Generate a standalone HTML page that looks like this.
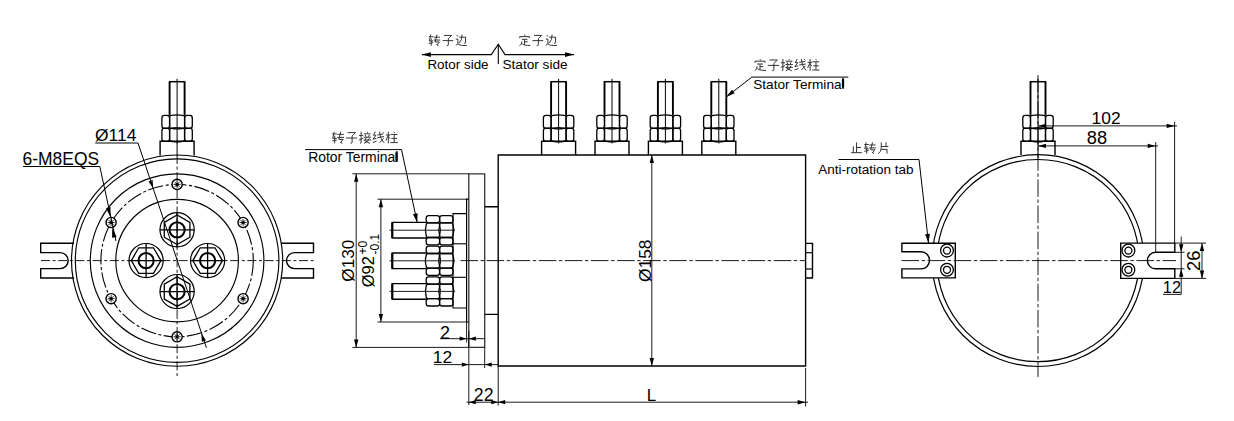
<!DOCTYPE html>
<html><head><meta charset="utf-8"><style>
html,body{margin:0;padding:0;background:#fff;width:1234px;height:421px;overflow:hidden}
svg{display:block}
text{font-family:"Liberation Sans",sans-serif;fill:#000}
</style></head><body>
<svg width="1234" height="421" viewBox="0 0 1234 421">
<rect width="1234" height="421" fill="#fff"/>
<path d="M169.6 115.5V81.7M184.6 81.7V115.5" stroke="#000" stroke-width="1.9" fill="none"/>
<line x1="168.9" y1="81.7" x2="185.3" y2="81.7" stroke="#000" stroke-width="1.5" stroke-linecap="butt"/>
<path d="M164.5 115.3Q165.75 115.3 167 115.3Q169.6 115.3 169.6 117.9Q169.6 121.85 169.6 125.8Q169.6 128.4 167 128.4Q165.75 128.4 164.5 128.4Q161.9 128.4 161.9 125.8Q161.9 121.85 161.9 117.9Q161.9 115.3 164.5 115.3Z" stroke="#000" stroke-width="1.3" fill="none"/>
<path d="M187.2 115.3Q188.45 115.3 189.7 115.3Q192.3 115.3 192.3 117.9Q192.3 121.85 192.3 125.8Q192.3 128.4 189.7 128.4Q188.45 128.4 187.2 128.4Q184.6 128.4 184.6 125.8Q184.6 121.85 184.6 117.9Q184.6 115.3 187.2 115.3Z" stroke="#000" stroke-width="1.3" fill="none"/>
<path d="M171.6 115.3Q177.1 114.3 182.6 115.3Q184.6 115.3 184.6 117.3Q184.6 121.85 184.6 126.4Q184.6 128.4 182.6 128.4Q177.1 129.4 171.6 128.4Q169.6 128.4 169.6 126.4Q169.6 121.85 169.6 117.3Q169.6 115.3 171.6 115.3Z" stroke="#000" stroke-width="1.3" fill="none"/>
<path d="M164.5 128.2Q165.75 128.2 167 128.2Q169.6 128.2 169.6 130.8Q169.6 134.75 169.6 138.7Q169.6 141.3 167 141.3Q165.75 141.3 164.5 141.3Q161.9 141.3 161.9 138.7Q161.9 134.75 161.9 130.8Q161.9 128.2 164.5 128.2Z" stroke="#000" stroke-width="1.3" fill="none"/>
<path d="M187.2 128.2Q188.45 128.2 189.7 128.2Q192.3 128.2 192.3 130.8Q192.3 134.75 192.3 138.7Q192.3 141.3 189.7 141.3Q188.45 141.3 187.2 141.3Q184.6 141.3 184.6 138.7Q184.6 134.75 184.6 130.8Q184.6 128.2 187.2 128.2Z" stroke="#000" stroke-width="1.3" fill="none"/>
<path d="M171.6 128.2Q177.1 127.2 182.6 128.2Q184.6 128.2 184.6 130.2Q184.6 134.75 184.6 139.3Q184.6 141.3 182.6 141.3Q177.1 142.3 171.6 141.3Q169.6 141.3 169.6 139.3Q169.6 134.75 169.6 130.2Q169.6 128.2 171.6 128.2Z" stroke="#000" stroke-width="1.3" fill="none"/>
<path d="M160.1 155.5V141.3H194.1V155.5" stroke="#000" stroke-width="1.4" fill="none"/>
<line x1="177.1" y1="78.8" x2="177.1" y2="143.5" stroke="#000" stroke-width="1.0" stroke-linecap="butt"/>
<line x1="177.1" y1="140" x2="177.1" y2="156" stroke="#000" stroke-width="1.0" stroke-linecap="butt"/>
<circle cx="177.1" cy="260.6" r="105.6" stroke="#000" stroke-width="1.15" fill="none"/>
<circle cx="177.1" cy="260.6" r="101.8" stroke="#000" stroke-width="1.15" fill="none"/>
<circle cx="177.1" cy="260.6" r="86.8" stroke="#000" stroke-width="1.15" fill="none"/>
<circle cx="177.1" cy="260.6" r="76.2" stroke="#000" stroke-width="1.1" fill="none" stroke-dasharray="15.5 2.5 3 2.5"/>
<circle cx="177.1" cy="260.6" r="61.3" stroke="#000" stroke-width="1.15" fill="none"/>
<path d="M74 243.2H40.7V252.6H60.2A8 8 0 0 1 60.2 268.6H40.7V278H74" stroke="#000" stroke-width="1.4" fill="none"/>
<path d="M281 243.2H313.5V252.6H294.5A8 8 0 0 0 294.5 268.6H313.5V278H281" stroke="#000" stroke-width="1.4" fill="none"/>
<circle cx="243.09" cy="222.5" r="5.1" fill="#fff" stroke="#000" stroke-width="1.4"/>
<circle cx="243.09" cy="222.5" r="1.6" fill="#000"/>
<path d="M239.49 222.5H246.69M243.09 218.9V226.1M240.59 220L245.59 225M245.59 220L240.59 225" stroke="#000" stroke-width="0.8"/>
<circle cx="177.1" cy="184.4" r="5.1" fill="#fff" stroke="#000" stroke-width="1.4"/>
<circle cx="177.1" cy="184.4" r="1.6" fill="#000"/>
<path d="M173.5 184.4H180.7M177.1 180.8V188M174.6 181.9L179.6 186.9M179.6 181.9L174.6 186.9" stroke="#000" stroke-width="0.8"/>
<circle cx="111.11" cy="222.5" r="5.1" fill="#fff" stroke="#000" stroke-width="1.4"/>
<circle cx="111.11" cy="222.5" r="1.6" fill="#000"/>
<path d="M107.51 222.5H114.71M111.11 218.9V226.1M108.61 220L113.61 225M113.61 220L108.61 225" stroke="#000" stroke-width="0.8"/>
<circle cx="111.11" cy="298.7" r="5.1" fill="#fff" stroke="#000" stroke-width="1.4"/>
<circle cx="111.11" cy="298.7" r="1.6" fill="#000"/>
<path d="M107.51 298.7H114.71M111.11 295.1V302.3M108.61 296.2L113.61 301.2M113.61 296.2L108.61 301.2" stroke="#000" stroke-width="0.8"/>
<circle cx="177.1" cy="336.8" r="5.1" fill="#fff" stroke="#000" stroke-width="1.4"/>
<circle cx="177.1" cy="336.8" r="1.6" fill="#000"/>
<path d="M173.5 336.8H180.7M177.1 333.2V340.4M174.6 334.3L179.6 339.3M179.6 334.3L174.6 339.3" stroke="#000" stroke-width="0.8"/>
<circle cx="243.09" cy="298.7" r="5.1" fill="#fff" stroke="#000" stroke-width="1.4"/>
<circle cx="243.09" cy="298.7" r="1.6" fill="#000"/>
<path d="M239.49 298.7H246.69M243.09 295.1V302.3M240.59 296.2L245.59 301.2M245.59 296.2L240.59 301.2" stroke="#000" stroke-width="0.8"/>
<line x1="41" y1="260.6" x2="314" y2="260.6" stroke="#000" stroke-width="0.9" stroke-dasharray="9 2.6 3 2.6" stroke-linecap="butt"/>
<line x1="177.1" y1="155" x2="177.1" y2="377" stroke="#000" stroke-width="0.9" stroke-dasharray="9 2.6 3 2.6" stroke-linecap="butt"/>
<circle cx="177.1" cy="229.8" r="17.1" stroke="#000" stroke-width="1.2" fill="none"/>
<polygon points="189.92,237.2 177.1,244.6 164.28,237.2 164.28,222.4 177.1,215 189.92,222.4" fill="none" stroke="#000" stroke-width="1.3"/>
<circle cx="177.1" cy="229.8" r="7.6" stroke="#000" stroke-width="2.0" fill="none"/>
<line x1="159.6" y1="229.8" x2="194.6" y2="229.8" stroke="#000" stroke-width="1.3" stroke-linecap="butt"/>
<line x1="177.1" y1="212.3" x2="177.1" y2="247.3" stroke="#000" stroke-width="1.3" stroke-linecap="butt"/>
<circle cx="177.1" cy="291.6" r="17.1" stroke="#000" stroke-width="1.2" fill="none"/>
<polygon points="189.92,299 177.1,306.4 164.28,299 164.28,284.2 177.1,276.8 189.92,284.2" fill="none" stroke="#000" stroke-width="1.3"/>
<circle cx="177.1" cy="291.6" r="7.6" stroke="#000" stroke-width="2.0" fill="none"/>
<line x1="159.6" y1="291.6" x2="194.6" y2="291.6" stroke="#000" stroke-width="1.3" stroke-linecap="butt"/>
<line x1="177.1" y1="274.1" x2="177.1" y2="309.1" stroke="#000" stroke-width="1.3" stroke-linecap="butt"/>
<circle cx="146.1" cy="260.6" r="17.1" stroke="#000" stroke-width="1.2" fill="none"/>
<polygon points="160.9,260.6 153.5,273.42 138.7,273.42 131.3,260.6 138.7,247.78 153.5,247.78" fill="none" stroke="#000" stroke-width="1.3"/>
<circle cx="146.1" cy="260.6" r="7.6" stroke="#000" stroke-width="2.0" fill="none"/>
<line x1="128.6" y1="260.6" x2="163.6" y2="260.6" stroke="#000" stroke-width="1.3" stroke-linecap="butt"/>
<line x1="146.1" y1="243.1" x2="146.1" y2="278.1" stroke="#000" stroke-width="1.3" stroke-linecap="butt"/>
<circle cx="207.6" cy="260.6" r="17.1" stroke="#000" stroke-width="1.2" fill="none"/>
<polygon points="222.4,260.6 215,273.42 200.2,273.42 192.8,260.6 200.2,247.78 215,247.78" fill="none" stroke="#000" stroke-width="1.3"/>
<circle cx="207.6" cy="260.6" r="7.6" stroke="#000" stroke-width="2.0" fill="none"/>
<line x1="190.1" y1="260.6" x2="225.1" y2="260.6" stroke="#000" stroke-width="1.3" stroke-linecap="butt"/>
<line x1="207.6" y1="243.1" x2="207.6" y2="278.1" stroke="#000" stroke-width="1.3" stroke-linecap="butt"/>
<line x1="138" y1="143" x2="206.4" y2="347.7" stroke="#000" stroke-width="1.0" stroke-linecap="butt"/>
<path d="M153.1 188.3L148.49 181.4L152.66 180.01Z" fill="#000"/>
<path d="M201.4 333.5L206.01 340.4L201.84 341.79Z" fill="#000"/>
<line x1="95.2" y1="143" x2="138" y2="143" stroke="#000" stroke-width="1.0" stroke-linecap="butt"/>
<text x="95.1" y="140.7" font-size="17.4" text-anchor="start">Ø114</text>
<line x1="23" y1="166.5" x2="99.8" y2="166.5" stroke="#000" stroke-width="1.0" stroke-linecap="butt"/>
<line x1="99.8" y1="166.5" x2="116" y2="241" stroke="#000" stroke-width="1.0" stroke-linecap="butt"/>
<path d="M110.4 217.2L106.02 207.92L110.52 206.94Z" fill="#000"/>
<path d="M112.2 227.6L116.58 236.88L112.08 237.86Z" fill="#000"/>
<text x="22.6" y="164.5" font-size="17.45" text-anchor="start">6-M8EQS</text>
<path d="M498.2 155H805.6V366H498.2Z" stroke="#000" stroke-width="1.4" fill="none"/>
<path d="M805.6 243.4H812.5V278H805.6" stroke="#000" stroke-width="1.4" fill="none"/>
<line x1="805.6" y1="252.7" x2="812.5" y2="252.7" stroke="#000" stroke-width="1.2" stroke-linecap="butt"/>
<line x1="805.6" y1="269" x2="812.5" y2="269" stroke="#000" stroke-width="1.2" stroke-linecap="butt"/>
<path d="M498.2 206.8H484.7M484.7 314.4H498.2" stroke="#000" stroke-width="1.4" fill="none"/>
<path d="M484.7 173.8H468.8V347.4H484.7Z" stroke="#333" stroke-width="1.3" fill="none"/>
<path d="M468.8 199.2H466.6V322H468.8" stroke="#000" stroke-width="1.2" fill="none"/>
<path d="M466.6 213.6H453V308H466.6" stroke="#000" stroke-width="1.1" fill="none"/>
<line x1="453" y1="243.8" x2="466.6" y2="243.8" stroke="#000" stroke-width="1.1" stroke-linecap="butt"/>
<line x1="453" y1="277.3" x2="466.6" y2="277.3" stroke="#000" stroke-width="1.1" stroke-linecap="butt"/>
<path d="M426.2 222.4H392.3V238H426.2" stroke="#000" stroke-width="1.4" fill="none"/>
<line x1="392.3" y1="222.4" x2="392.3" y2="238" stroke="#000" stroke-width="2.2" stroke-linecap="butt"/>
<line x1="389.5" y1="230.2" x2="455" y2="230.2" stroke="#000" stroke-width="0.9" stroke-linecap="butt"/>
<path d="M428.8 215.6Q432.9 215.6 437 215.6Q439.6 215.6 439.6 218.2Q439.6 219.25 439.6 220.3Q439.6 222.9 437 222.9Q432.9 222.9 428.8 222.9Q426.2 222.9 426.2 220.3Q426.2 219.25 426.2 218.2Q426.2 215.6 428.8 215.6Z" stroke="#000" stroke-width="1.3" fill="none"/>
<path d="M428.8 237.5Q432.9 237.5 437 237.5Q439.6 237.5 439.6 240.1Q439.6 241.15 439.6 242.2Q439.6 244.8 437 244.8Q432.9 244.8 428.8 244.8Q426.2 244.8 426.2 242.2Q426.2 241.15 426.2 240.1Q426.2 237.5 428.8 237.5Z" stroke="#000" stroke-width="1.3" fill="none"/>
<path d="M428.2 222.9Q432.9 222.9 437.6 222.9Q439.6 222.9 439.6 224.9Q441.2 230.2 439.6 235.5Q439.6 237.5 437.6 237.5Q432.9 237.5 428.2 237.5Q426.2 237.5 426.2 235.5Q424.6 230.2 426.2 224.9Q426.2 222.9 428.2 222.9Z" stroke="#000" stroke-width="1.3" fill="none"/>
<path d="M442.2 215.6Q446.3 215.6 450.4 215.6Q453 215.6 453 218.2Q453 219.25 453 220.3Q453 222.9 450.4 222.9Q446.3 222.9 442.2 222.9Q439.6 222.9 439.6 220.3Q439.6 219.25 439.6 218.2Q439.6 215.6 442.2 215.6Z" stroke="#000" stroke-width="1.3" fill="none"/>
<path d="M442.2 237.5Q446.3 237.5 450.4 237.5Q453 237.5 453 240.1Q453 241.15 453 242.2Q453 244.8 450.4 244.8Q446.3 244.8 442.2 244.8Q439.6 244.8 439.6 242.2Q439.6 241.15 439.6 240.1Q439.6 237.5 442.2 237.5Z" stroke="#000" stroke-width="1.3" fill="none"/>
<path d="M441.6 222.9Q446.3 222.9 451 222.9Q453 222.9 453 224.9Q454.6 230.2 453 235.5Q453 237.5 451 237.5Q446.3 237.5 441.6 237.5Q439.6 237.5 439.6 235.5Q438 230.2 439.6 224.9Q439.6 222.9 441.6 222.9Z" stroke="#000" stroke-width="1.3" fill="none"/>
<path d="M426.2 253H392.3V268.6H426.2" stroke="#000" stroke-width="1.4" fill="none"/>
<line x1="392.3" y1="253" x2="392.3" y2="268.6" stroke="#000" stroke-width="2.2" stroke-linecap="butt"/>
<line x1="389.5" y1="260.8" x2="455" y2="260.8" stroke="#000" stroke-width="0.9" stroke-linecap="butt"/>
<path d="M428.8 246.2Q432.9 246.2 437 246.2Q439.6 246.2 439.6 248.8Q439.6 249.85 439.6 250.9Q439.6 253.5 437 253.5Q432.9 253.5 428.8 253.5Q426.2 253.5 426.2 250.9Q426.2 249.85 426.2 248.8Q426.2 246.2 428.8 246.2Z" stroke="#000" stroke-width="1.3" fill="none"/>
<path d="M428.8 268.1Q432.9 268.1 437 268.1Q439.6 268.1 439.6 270.7Q439.6 271.75 439.6 272.8Q439.6 275.4 437 275.4Q432.9 275.4 428.8 275.4Q426.2 275.4 426.2 272.8Q426.2 271.75 426.2 270.7Q426.2 268.1 428.8 268.1Z" stroke="#000" stroke-width="1.3" fill="none"/>
<path d="M428.2 253.5Q432.9 253.5 437.6 253.5Q439.6 253.5 439.6 255.5Q441.2 260.8 439.6 266.1Q439.6 268.1 437.6 268.1Q432.9 268.1 428.2 268.1Q426.2 268.1 426.2 266.1Q424.6 260.8 426.2 255.5Q426.2 253.5 428.2 253.5Z" stroke="#000" stroke-width="1.3" fill="none"/>
<path d="M442.2 246.2Q446.3 246.2 450.4 246.2Q453 246.2 453 248.8Q453 249.85 453 250.9Q453 253.5 450.4 253.5Q446.3 253.5 442.2 253.5Q439.6 253.5 439.6 250.9Q439.6 249.85 439.6 248.8Q439.6 246.2 442.2 246.2Z" stroke="#000" stroke-width="1.3" fill="none"/>
<path d="M442.2 268.1Q446.3 268.1 450.4 268.1Q453 268.1 453 270.7Q453 271.75 453 272.8Q453 275.4 450.4 275.4Q446.3 275.4 442.2 275.4Q439.6 275.4 439.6 272.8Q439.6 271.75 439.6 270.7Q439.6 268.1 442.2 268.1Z" stroke="#000" stroke-width="1.3" fill="none"/>
<path d="M441.6 253.5Q446.3 253.5 451 253.5Q453 253.5 453 255.5Q454.6 260.8 453 266.1Q453 268.1 451 268.1Q446.3 268.1 441.6 268.1Q439.6 268.1 439.6 266.1Q438 260.8 439.6 255.5Q439.6 253.5 441.6 253.5Z" stroke="#000" stroke-width="1.3" fill="none"/>
<path d="M426.2 283.6H392.3V299.2H426.2" stroke="#000" stroke-width="1.4" fill="none"/>
<line x1="392.3" y1="283.6" x2="392.3" y2="299.2" stroke="#000" stroke-width="2.2" stroke-linecap="butt"/>
<line x1="389.5" y1="291.4" x2="455" y2="291.4" stroke="#000" stroke-width="0.9" stroke-linecap="butt"/>
<path d="M428.8 276.8Q432.9 276.8 437 276.8Q439.6 276.8 439.6 279.4Q439.6 280.45 439.6 281.5Q439.6 284.1 437 284.1Q432.9 284.1 428.8 284.1Q426.2 284.1 426.2 281.5Q426.2 280.45 426.2 279.4Q426.2 276.8 428.8 276.8Z" stroke="#000" stroke-width="1.3" fill="none"/>
<path d="M428.8 298.7Q432.9 298.7 437 298.7Q439.6 298.7 439.6 301.3Q439.6 302.35 439.6 303.4Q439.6 306 437 306Q432.9 306 428.8 306Q426.2 306 426.2 303.4Q426.2 302.35 426.2 301.3Q426.2 298.7 428.8 298.7Z" stroke="#000" stroke-width="1.3" fill="none"/>
<path d="M428.2 284.1Q432.9 284.1 437.6 284.1Q439.6 284.1 439.6 286.1Q441.2 291.4 439.6 296.7Q439.6 298.7 437.6 298.7Q432.9 298.7 428.2 298.7Q426.2 298.7 426.2 296.7Q424.6 291.4 426.2 286.1Q426.2 284.1 428.2 284.1Z" stroke="#000" stroke-width="1.3" fill="none"/>
<path d="M442.2 276.8Q446.3 276.8 450.4 276.8Q453 276.8 453 279.4Q453 280.45 453 281.5Q453 284.1 450.4 284.1Q446.3 284.1 442.2 284.1Q439.6 284.1 439.6 281.5Q439.6 280.45 439.6 279.4Q439.6 276.8 442.2 276.8Z" stroke="#000" stroke-width="1.3" fill="none"/>
<path d="M442.2 298.7Q446.3 298.7 450.4 298.7Q453 298.7 453 301.3Q453 302.35 453 303.4Q453 306 450.4 306Q446.3 306 442.2 306Q439.6 306 439.6 303.4Q439.6 302.35 439.6 301.3Q439.6 298.7 442.2 298.7Z" stroke="#000" stroke-width="1.3" fill="none"/>
<path d="M441.6 284.1Q446.3 284.1 451 284.1Q453 284.1 453 286.1Q454.6 291.4 453 296.7Q453 298.7 451 298.7Q446.3 298.7 441.6 298.7Q439.6 298.7 439.6 296.7Q438 291.4 439.6 286.1Q439.6 284.1 441.6 284.1Z" stroke="#000" stroke-width="1.3" fill="none"/>
<path d="M551.1 115.5V81.7M566.1 81.7V115.5" stroke="#000" stroke-width="1.9" fill="none"/>
<line x1="550.4" y1="81.7" x2="566.8" y2="81.7" stroke="#000" stroke-width="1.5" stroke-linecap="butt"/>
<path d="M546 115.3Q547.25 115.3 548.5 115.3Q551.1 115.3 551.1 117.9Q551.1 121.85 551.1 125.8Q551.1 128.4 548.5 128.4Q547.25 128.4 546 128.4Q543.4 128.4 543.4 125.8Q543.4 121.85 543.4 117.9Q543.4 115.3 546 115.3Z" stroke="#000" stroke-width="1.3" fill="none"/>
<path d="M568.7 115.3Q569.95 115.3 571.2 115.3Q573.8 115.3 573.8 117.9Q573.8 121.85 573.8 125.8Q573.8 128.4 571.2 128.4Q569.95 128.4 568.7 128.4Q566.1 128.4 566.1 125.8Q566.1 121.85 566.1 117.9Q566.1 115.3 568.7 115.3Z" stroke="#000" stroke-width="1.3" fill="none"/>
<path d="M553.1 115.3Q558.6 114.3 564.1 115.3Q566.1 115.3 566.1 117.3Q566.1 121.85 566.1 126.4Q566.1 128.4 564.1 128.4Q558.6 129.4 553.1 128.4Q551.1 128.4 551.1 126.4Q551.1 121.85 551.1 117.3Q551.1 115.3 553.1 115.3Z" stroke="#000" stroke-width="1.3" fill="none"/>
<path d="M546 128.2Q547.25 128.2 548.5 128.2Q551.1 128.2 551.1 130.8Q551.1 134.75 551.1 138.7Q551.1 141.3 548.5 141.3Q547.25 141.3 546 141.3Q543.4 141.3 543.4 138.7Q543.4 134.75 543.4 130.8Q543.4 128.2 546 128.2Z" stroke="#000" stroke-width="1.3" fill="none"/>
<path d="M568.7 128.2Q569.95 128.2 571.2 128.2Q573.8 128.2 573.8 130.8Q573.8 134.75 573.8 138.7Q573.8 141.3 571.2 141.3Q569.95 141.3 568.7 141.3Q566.1 141.3 566.1 138.7Q566.1 134.75 566.1 130.8Q566.1 128.2 568.7 128.2Z" stroke="#000" stroke-width="1.3" fill="none"/>
<path d="M553.1 128.2Q558.6 127.2 564.1 128.2Q566.1 128.2 566.1 130.2Q566.1 134.75 566.1 139.3Q566.1 141.3 564.1 141.3Q558.6 142.3 553.1 141.3Q551.1 141.3 551.1 139.3Q551.1 134.75 551.1 130.2Q551.1 128.2 553.1 128.2Z" stroke="#000" stroke-width="1.3" fill="none"/>
<path d="M541.6 155V141.3H575.6V155" stroke="#000" stroke-width="1.4" fill="none"/>
<line x1="558.6" y1="78.8" x2="558.6" y2="143.5" stroke="#000" stroke-width="1.0" stroke-linecap="butt"/>
<path d="M604.5 115.5V81.7M619.5 81.7V115.5" stroke="#000" stroke-width="1.9" fill="none"/>
<line x1="603.8" y1="81.7" x2="620.2" y2="81.7" stroke="#000" stroke-width="1.5" stroke-linecap="butt"/>
<path d="M599.4 115.3Q600.65 115.3 601.9 115.3Q604.5 115.3 604.5 117.9Q604.5 121.85 604.5 125.8Q604.5 128.4 601.9 128.4Q600.65 128.4 599.4 128.4Q596.8 128.4 596.8 125.8Q596.8 121.85 596.8 117.9Q596.8 115.3 599.4 115.3Z" stroke="#000" stroke-width="1.3" fill="none"/>
<path d="M622.1 115.3Q623.35 115.3 624.6 115.3Q627.2 115.3 627.2 117.9Q627.2 121.85 627.2 125.8Q627.2 128.4 624.6 128.4Q623.35 128.4 622.1 128.4Q619.5 128.4 619.5 125.8Q619.5 121.85 619.5 117.9Q619.5 115.3 622.1 115.3Z" stroke="#000" stroke-width="1.3" fill="none"/>
<path d="M606.5 115.3Q612 114.3 617.5 115.3Q619.5 115.3 619.5 117.3Q619.5 121.85 619.5 126.4Q619.5 128.4 617.5 128.4Q612 129.4 606.5 128.4Q604.5 128.4 604.5 126.4Q604.5 121.85 604.5 117.3Q604.5 115.3 606.5 115.3Z" stroke="#000" stroke-width="1.3" fill="none"/>
<path d="M599.4 128.2Q600.65 128.2 601.9 128.2Q604.5 128.2 604.5 130.8Q604.5 134.75 604.5 138.7Q604.5 141.3 601.9 141.3Q600.65 141.3 599.4 141.3Q596.8 141.3 596.8 138.7Q596.8 134.75 596.8 130.8Q596.8 128.2 599.4 128.2Z" stroke="#000" stroke-width="1.3" fill="none"/>
<path d="M622.1 128.2Q623.35 128.2 624.6 128.2Q627.2 128.2 627.2 130.8Q627.2 134.75 627.2 138.7Q627.2 141.3 624.6 141.3Q623.35 141.3 622.1 141.3Q619.5 141.3 619.5 138.7Q619.5 134.75 619.5 130.8Q619.5 128.2 622.1 128.2Z" stroke="#000" stroke-width="1.3" fill="none"/>
<path d="M606.5 128.2Q612 127.2 617.5 128.2Q619.5 128.2 619.5 130.2Q619.5 134.75 619.5 139.3Q619.5 141.3 617.5 141.3Q612 142.3 606.5 141.3Q604.5 141.3 604.5 139.3Q604.5 134.75 604.5 130.2Q604.5 128.2 606.5 128.2Z" stroke="#000" stroke-width="1.3" fill="none"/>
<path d="M595 155V141.3H629V155" stroke="#000" stroke-width="1.4" fill="none"/>
<line x1="612" y1="78.8" x2="612" y2="143.5" stroke="#000" stroke-width="1.0" stroke-linecap="butt"/>
<path d="M657.9 115.5V81.7M672.9 81.7V115.5" stroke="#000" stroke-width="1.9" fill="none"/>
<line x1="657.2" y1="81.7" x2="673.6" y2="81.7" stroke="#000" stroke-width="1.5" stroke-linecap="butt"/>
<path d="M652.8 115.3Q654.05 115.3 655.3 115.3Q657.9 115.3 657.9 117.9Q657.9 121.85 657.9 125.8Q657.9 128.4 655.3 128.4Q654.05 128.4 652.8 128.4Q650.2 128.4 650.2 125.8Q650.2 121.85 650.2 117.9Q650.2 115.3 652.8 115.3Z" stroke="#000" stroke-width="1.3" fill="none"/>
<path d="M675.5 115.3Q676.75 115.3 678 115.3Q680.6 115.3 680.6 117.9Q680.6 121.85 680.6 125.8Q680.6 128.4 678 128.4Q676.75 128.4 675.5 128.4Q672.9 128.4 672.9 125.8Q672.9 121.85 672.9 117.9Q672.9 115.3 675.5 115.3Z" stroke="#000" stroke-width="1.3" fill="none"/>
<path d="M659.9 115.3Q665.4 114.3 670.9 115.3Q672.9 115.3 672.9 117.3Q672.9 121.85 672.9 126.4Q672.9 128.4 670.9 128.4Q665.4 129.4 659.9 128.4Q657.9 128.4 657.9 126.4Q657.9 121.85 657.9 117.3Q657.9 115.3 659.9 115.3Z" stroke="#000" stroke-width="1.3" fill="none"/>
<path d="M652.8 128.2Q654.05 128.2 655.3 128.2Q657.9 128.2 657.9 130.8Q657.9 134.75 657.9 138.7Q657.9 141.3 655.3 141.3Q654.05 141.3 652.8 141.3Q650.2 141.3 650.2 138.7Q650.2 134.75 650.2 130.8Q650.2 128.2 652.8 128.2Z" stroke="#000" stroke-width="1.3" fill="none"/>
<path d="M675.5 128.2Q676.75 128.2 678 128.2Q680.6 128.2 680.6 130.8Q680.6 134.75 680.6 138.7Q680.6 141.3 678 141.3Q676.75 141.3 675.5 141.3Q672.9 141.3 672.9 138.7Q672.9 134.75 672.9 130.8Q672.9 128.2 675.5 128.2Z" stroke="#000" stroke-width="1.3" fill="none"/>
<path d="M659.9 128.2Q665.4 127.2 670.9 128.2Q672.9 128.2 672.9 130.2Q672.9 134.75 672.9 139.3Q672.9 141.3 670.9 141.3Q665.4 142.3 659.9 141.3Q657.9 141.3 657.9 139.3Q657.9 134.75 657.9 130.2Q657.9 128.2 659.9 128.2Z" stroke="#000" stroke-width="1.3" fill="none"/>
<path d="M648.4 155V141.3H682.4V155" stroke="#000" stroke-width="1.4" fill="none"/>
<line x1="665.4" y1="78.8" x2="665.4" y2="143.5" stroke="#000" stroke-width="1.0" stroke-linecap="butt"/>
<path d="M711.3 115.5V81.7M726.3 81.7V115.5" stroke="#000" stroke-width="1.9" fill="none"/>
<line x1="710.6" y1="81.7" x2="727" y2="81.7" stroke="#000" stroke-width="1.5" stroke-linecap="butt"/>
<path d="M706.2 115.3Q707.45 115.3 708.7 115.3Q711.3 115.3 711.3 117.9Q711.3 121.85 711.3 125.8Q711.3 128.4 708.7 128.4Q707.45 128.4 706.2 128.4Q703.6 128.4 703.6 125.8Q703.6 121.85 703.6 117.9Q703.6 115.3 706.2 115.3Z" stroke="#000" stroke-width="1.3" fill="none"/>
<path d="M728.9 115.3Q730.15 115.3 731.4 115.3Q734 115.3 734 117.9Q734 121.85 734 125.8Q734 128.4 731.4 128.4Q730.15 128.4 728.9 128.4Q726.3 128.4 726.3 125.8Q726.3 121.85 726.3 117.9Q726.3 115.3 728.9 115.3Z" stroke="#000" stroke-width="1.3" fill="none"/>
<path d="M713.3 115.3Q718.8 114.3 724.3 115.3Q726.3 115.3 726.3 117.3Q726.3 121.85 726.3 126.4Q726.3 128.4 724.3 128.4Q718.8 129.4 713.3 128.4Q711.3 128.4 711.3 126.4Q711.3 121.85 711.3 117.3Q711.3 115.3 713.3 115.3Z" stroke="#000" stroke-width="1.3" fill="none"/>
<path d="M706.2 128.2Q707.45 128.2 708.7 128.2Q711.3 128.2 711.3 130.8Q711.3 134.75 711.3 138.7Q711.3 141.3 708.7 141.3Q707.45 141.3 706.2 141.3Q703.6 141.3 703.6 138.7Q703.6 134.75 703.6 130.8Q703.6 128.2 706.2 128.2Z" stroke="#000" stroke-width="1.3" fill="none"/>
<path d="M728.9 128.2Q730.15 128.2 731.4 128.2Q734 128.2 734 130.8Q734 134.75 734 138.7Q734 141.3 731.4 141.3Q730.15 141.3 728.9 141.3Q726.3 141.3 726.3 138.7Q726.3 134.75 726.3 130.8Q726.3 128.2 728.9 128.2Z" stroke="#000" stroke-width="1.3" fill="none"/>
<path d="M713.3 128.2Q718.8 127.2 724.3 128.2Q726.3 128.2 726.3 130.2Q726.3 134.75 726.3 139.3Q726.3 141.3 724.3 141.3Q718.8 142.3 713.3 141.3Q711.3 141.3 711.3 139.3Q711.3 134.75 711.3 130.2Q711.3 128.2 713.3 128.2Z" stroke="#000" stroke-width="1.3" fill="none"/>
<path d="M701.8 155V141.3H735.8V155" stroke="#000" stroke-width="1.4" fill="none"/>
<line x1="718.8" y1="78.8" x2="718.8" y2="143.5" stroke="#000" stroke-width="1.0" stroke-linecap="butt"/>
<line x1="460.5" y1="260.6" x2="806" y2="260.6" stroke="#000" stroke-width="0.9" stroke-dasharray="17.5 2.6 3.4 2.6" stroke-linecap="butt"/>
<line x1="651.8" y1="155" x2="651.8" y2="366" stroke="#000" stroke-width="0.9" stroke-linecap="butt"/>
<path d="M651.8 155L654 163L649.6 163Z" fill="#000"/>
<path d="M651.8 366L649.6 358L654 358Z" fill="#000"/>
<text x="650.6" y="281.9" font-size="17.34" text-anchor="start" transform="rotate(-90 650.6 281.9)">Ø158</text>
<line x1="352.4" y1="173.8" x2="468.8" y2="173.8" stroke="#000" stroke-width="0.9" stroke-linecap="butt"/>
<line x1="352.4" y1="347.4" x2="468.8" y2="347.4" stroke="#000" stroke-width="0.9" stroke-linecap="butt"/>
<line x1="356.2" y1="173.8" x2="356.2" y2="347.4" stroke="#000" stroke-width="0.9" stroke-linecap="butt"/>
<path d="M356.2 173.8L358.4 181.8L354 181.8Z" fill="#000"/>
<path d="M356.2 347.4L354 339.4L358.4 339.4Z" fill="#000"/>
<text x="354.5" y="281.7" font-size="17.17" text-anchor="start" transform="rotate(-90 354.5 281.7)">Ø130</text>
<line x1="377.5" y1="199.2" x2="466.6" y2="199.2" stroke="#000" stroke-width="0.9" stroke-linecap="butt"/>
<line x1="377.5" y1="322" x2="466.6" y2="322" stroke="#000" stroke-width="0.9" stroke-linecap="butt"/>
<line x1="380.9" y1="199.2" x2="380.9" y2="322" stroke="#000" stroke-width="0.9" stroke-linecap="butt"/>
<path d="M380.9 199.2L383.1 207.2L378.7 207.2Z" fill="#000"/>
<path d="M380.9 322L378.7 314L383.1 314Z" fill="#000"/>
<text x="374.4" y="287.3" font-size="16.5" text-anchor="start" transform="rotate(-90 374.4 287.3)">Ø92</text>
<text x="367.3" y="254.4" font-size="12" text-anchor="start" transform="rotate(-90 367.3 254.4)">+0</text>
<text x="379.3" y="254.4" font-size="12" text-anchor="start" transform="rotate(-90 379.3 254.4)">-0.1</text>
<line x1="466.6" y1="322" x2="466.6" y2="342.5" stroke="#000" stroke-width="0.9" stroke-linecap="butt"/>
<line x1="468.8" y1="331" x2="468.8" y2="347.4" stroke="#000" stroke-width="0.9" stroke-linecap="butt"/>
<line x1="440" y1="338.7" x2="484" y2="338.7" stroke="#000" stroke-width="0.9" stroke-linecap="butt"/>
<path d="M466.6 338.7L459.6 340.8L459.6 336.6Z" fill="#000"/>
<path d="M468.8 338.7L475.8 336.6L475.8 340.8Z" fill="#000"/>
<text x="440" y="338.6" font-size="18" text-anchor="start">2</text>
<line x1="468.8" y1="347.4" x2="468.8" y2="405" stroke="#000" stroke-width="0.9" stroke-linecap="butt"/>
<line x1="484.7" y1="347.4" x2="484.7" y2="368" stroke="#000" stroke-width="0.9" stroke-linecap="butt"/>
<line x1="434" y1="364.6" x2="498" y2="364.6" stroke="#000" stroke-width="0.9" stroke-linecap="butt"/>
<path d="M468.8 364.6L461.8 366.7L461.8 362.5Z" fill="#000"/>
<path d="M484.7 364.6L491.7 362.5L491.7 366.7Z" fill="#000"/>
<text x="432.8" y="363.3" font-size="17.41" text-anchor="start">12</text>
<line x1="498.2" y1="366" x2="498.2" y2="405.5" stroke="#000" stroke-width="0.9" stroke-linecap="butt"/>
<line x1="805.6" y1="368" x2="805.6" y2="406.5" stroke="#000" stroke-width="0.9" stroke-linecap="butt"/>
<line x1="466.5" y1="402.2" x2="808" y2="402.2" stroke="#000" stroke-width="0.9" stroke-linecap="butt"/>
<path d="M468.8 402.2L475.8 400.1L475.8 404.3Z" fill="#000"/>
<path d="M498.2 402.2L491.2 404.3L491.2 400.1Z" fill="#000"/>
<path d="M498.2 402.2L505.2 400.1L505.2 404.3Z" fill="#000"/>
<path d="M805.6 402.2L797.6 404.4L797.6 400Z" fill="#000"/>
<text x="473.8" y="401.3" font-size="17.71" text-anchor="start">22</text>
<text x="646.8" y="401.3" font-size="16.87" text-anchor="start">L</text>
<path d="M421.9 54.6H491.3L498.3 44.3L505 54.6H574" stroke="#000" stroke-width="1.1" fill="none"/>
<line x1="498.3" y1="44.3" x2="498.3" y2="64.1" stroke="#000" stroke-width="1.1" stroke-linecap="butt"/>
<path d="M421.9 54.6L430.9 52.2L430.9 57Z" fill="#000"/>
<path d="M574 54.6L565 57L565 52.2Z" fill="#000"/>
<text x="427.4" y="69.1" font-size="13.43" text-anchor="start">Rotor side</text>
<text x="502.4" y="69.1" font-size="13.66" text-anchor="start">Stator side</text>
<line x1="305" y1="149.6" x2="401.5" y2="149.6" stroke="#000" stroke-width="1.0" stroke-linecap="butt"/>
<line x1="401.5" y1="149.6" x2="417.2" y2="222.5" stroke="#000" stroke-width="1.0" stroke-linecap="butt"/>
<path d="M417.2 222.5L412.96 214.21L417.65 213.2Z" fill="#000"/>
<text x="308.2" y="161.7" font-size="13.92" text-anchor="start">Rotor Terminal</text>
<rect x="395.4" y="152.3" width="2.2" height="9.2" stroke="#000" stroke-width="0" fill="#000"/>
<line x1="751.9" y1="77.1" x2="848.3" y2="77.1" stroke="#000" stroke-width="1.0" stroke-linecap="butt"/>
<line x1="751.9" y1="77.1" x2="726.2" y2="97" stroke="#000" stroke-width="1.0" stroke-linecap="butt"/>
<path d="M726.2 97L731.97 89.75L734.66 93.23Z" fill="#000"/>
<text x="753.2" y="88.5" font-size="13.63" text-anchor="start">Stator Terminal</text>
<rect x="841.9" y="78.3" width="2.2" height="9.4" stroke="#000" stroke-width="0" fill="#000"/>
<path d="M1030.5 115.5V81.7M1045.5 81.7V115.5" stroke="#000" stroke-width="1.9" fill="none"/>
<line x1="1029.8" y1="81.7" x2="1046.2" y2="81.7" stroke="#000" stroke-width="1.5" stroke-linecap="butt"/>
<path d="M1025.4 115.3Q1026.65 115.3 1027.9 115.3Q1030.5 115.3 1030.5 117.9Q1030.5 121.85 1030.5 125.8Q1030.5 128.4 1027.9 128.4Q1026.65 128.4 1025.4 128.4Q1022.8 128.4 1022.8 125.8Q1022.8 121.85 1022.8 117.9Q1022.8 115.3 1025.4 115.3Z" stroke="#000" stroke-width="1.3" fill="none"/>
<path d="M1048.1 115.3Q1049.35 115.3 1050.6 115.3Q1053.2 115.3 1053.2 117.9Q1053.2 121.85 1053.2 125.8Q1053.2 128.4 1050.6 128.4Q1049.35 128.4 1048.1 128.4Q1045.5 128.4 1045.5 125.8Q1045.5 121.85 1045.5 117.9Q1045.5 115.3 1048.1 115.3Z" stroke="#000" stroke-width="1.3" fill="none"/>
<path d="M1032.5 115.3Q1038 114.3 1043.5 115.3Q1045.5 115.3 1045.5 117.3Q1045.5 121.85 1045.5 126.4Q1045.5 128.4 1043.5 128.4Q1038 129.4 1032.5 128.4Q1030.5 128.4 1030.5 126.4Q1030.5 121.85 1030.5 117.3Q1030.5 115.3 1032.5 115.3Z" stroke="#000" stroke-width="1.3" fill="none"/>
<path d="M1025.4 128.2Q1026.65 128.2 1027.9 128.2Q1030.5 128.2 1030.5 130.8Q1030.5 134.75 1030.5 138.7Q1030.5 141.3 1027.9 141.3Q1026.65 141.3 1025.4 141.3Q1022.8 141.3 1022.8 138.7Q1022.8 134.75 1022.8 130.8Q1022.8 128.2 1025.4 128.2Z" stroke="#000" stroke-width="1.3" fill="none"/>
<path d="M1048.1 128.2Q1049.35 128.2 1050.6 128.2Q1053.2 128.2 1053.2 130.8Q1053.2 134.75 1053.2 138.7Q1053.2 141.3 1050.6 141.3Q1049.35 141.3 1048.1 141.3Q1045.5 141.3 1045.5 138.7Q1045.5 134.75 1045.5 130.8Q1045.5 128.2 1048.1 128.2Z" stroke="#000" stroke-width="1.3" fill="none"/>
<path d="M1032.5 128.2Q1038 127.2 1043.5 128.2Q1045.5 128.2 1045.5 130.2Q1045.5 134.75 1045.5 139.3Q1045.5 141.3 1043.5 141.3Q1038 142.3 1032.5 141.3Q1030.5 141.3 1030.5 139.3Q1030.5 134.75 1030.5 130.2Q1030.5 128.2 1032.5 128.2Z" stroke="#000" stroke-width="1.3" fill="none"/>
<path d="M1021 155V141.3H1055V155" stroke="#000" stroke-width="1.4" fill="none"/>
<line x1="1038" y1="78.8" x2="1038" y2="143.5" stroke="#000" stroke-width="1.0" stroke-linecap="butt"/>
<line x1="1038" y1="140" x2="1038" y2="158" stroke="#000" stroke-width="1.0" stroke-linecap="butt"/>
<circle cx="1038" cy="260.6" r="105.9" stroke="#000" stroke-width="1.2" fill="none"/>
<circle cx="1038" cy="260.6" r="101.1" stroke="#000" stroke-width="1.2" fill="none"/>
<line x1="1038" y1="75" x2="1038" y2="377" stroke="#000" stroke-width="0.9" stroke-dasharray="17.5 2.6 3.4 2.6" stroke-linecap="butt"/>
<path d="M955.3 243.2H901.9V251.8H921A8.55 8.55 0 0 1 921 268.9H901.9V277.9H955.3Z" fill="#fff" stroke="#000" stroke-width="1.4"/>
<path d="M1120.7 243.1H1174.8V252.3H1155.6A8.25 8.25 0 0 0 1155.6 268.8H1174.8V278.4H1120.7Z" fill="#fff" stroke="#000" stroke-width="1.4"/>
<line x1="901.5" y1="260.6" x2="1176" y2="260.6" stroke="#000" stroke-width="0.9" stroke-dasharray="17.5 2.6 3.4 2.6" stroke-linecap="butt"/>
<circle cx="947" cy="250.6" r="6.4" stroke="#000" stroke-width="1.3" fill="none"/>
<circle cx="947" cy="250.6" r="3.5" stroke="#000" stroke-width="1.3" fill="none"/>
<circle cx="947" cy="269.8" r="6.4" stroke="#000" stroke-width="1.3" fill="none"/>
<circle cx="947" cy="269.8" r="3.5" stroke="#000" stroke-width="1.3" fill="none"/>
<circle cx="1128.4" cy="250.6" r="6.4" stroke="#000" stroke-width="1.3" fill="none"/>
<circle cx="1128.4" cy="250.6" r="3.5" stroke="#000" stroke-width="1.3" fill="none"/>
<circle cx="1128.4" cy="269.8" r="6.4" stroke="#000" stroke-width="1.3" fill="none"/>
<circle cx="1128.4" cy="269.8" r="3.5" stroke="#000" stroke-width="1.3" fill="none"/>
<line x1="1038" y1="125.9" x2="1177" y2="125.9" stroke="#000" stroke-width="0.9" stroke-linecap="butt"/>
<path d="M1038 125.9L1046 123.7L1046 128.1Z" fill="#000"/>
<path d="M1174.6 125.9L1166.6 128.1L1166.6 123.7Z" fill="#000"/>
<line x1="1174.6" y1="122" x2="1174.6" y2="243.1" stroke="#000" stroke-width="0.9" stroke-linecap="butt"/>
<text x="1091.6" y="124.3" font-size="17.41" text-anchor="start">102</text>
<line x1="1038" y1="145.9" x2="1158" y2="145.9" stroke="#000" stroke-width="0.9" stroke-linecap="butt"/>
<path d="M1038 145.9L1046 143.7L1046 148.1Z" fill="#000"/>
<path d="M1155.7 145.9L1147.7 148.1L1147.7 143.7Z" fill="#000"/>
<line x1="1155.7" y1="142" x2="1155.7" y2="252.3" stroke="#000" stroke-width="0.9" stroke-linecap="butt"/>
<text x="1086.8" y="144.1" font-size="18.24" text-anchor="start">88</text>
<line x1="1174.8" y1="243.1" x2="1206" y2="243.1" stroke="#000" stroke-width="0.9" stroke-linecap="butt"/>
<line x1="1174.8" y1="278.4" x2="1206" y2="278.4" stroke="#000" stroke-width="0.9" stroke-linecap="butt"/>
<line x1="1202" y1="243.1" x2="1202" y2="278.4" stroke="#000" stroke-width="0.9" stroke-linecap="butt"/>
<path d="M1202 243.1L1204.2 251.1L1199.8 251.1Z" fill="#000"/>
<path d="M1202 278.4L1199.8 270.4L1204.2 270.4Z" fill="#000"/>
<text x="1200.5" y="270.9" font-size="18.41" text-anchor="start" transform="rotate(-90 1200.5 270.9)">26</text>
<line x1="1174.8" y1="252.3" x2="1184.5" y2="252.3" stroke="#000" stroke-width="0.9" stroke-linecap="butt"/>
<line x1="1174.8" y1="268.8" x2="1184.5" y2="268.8" stroke="#000" stroke-width="0.9" stroke-linecap="butt"/>
<line x1="1181.2" y1="236.7" x2="1181.2" y2="294.4" stroke="#000" stroke-width="0.9" stroke-linecap="butt"/>
<path d="M1181.2 252.3L1179 244.3L1183.4 244.3Z" fill="#000"/>
<path d="M1181.2 268.8L1183.4 276.8L1179 276.8Z" fill="#000"/>
<line x1="1163" y1="294.4" x2="1181.2" y2="294.4" stroke="#000" stroke-width="0.9" stroke-linecap="butt"/>
<text x="1162.8" y="293.1" font-size="16.34" text-anchor="start">12</text>
<line x1="838.5" y1="159.5" x2="919" y2="159.5" stroke="#000" stroke-width="1.0" stroke-linecap="butt"/>
<line x1="919" y1="159.5" x2="928.5" y2="243" stroke="#000" stroke-width="1.0" stroke-linecap="butt"/>
<path d="M928.5 243L925.1 234.33L929.87 233.79Z" fill="#000"/>
<text x="818.2" y="173.7" font-size="13.49" text-anchor="start">Anti-rotation tab</text>
<path transform="translate(428.8 34.3) scale(0.96)" d="M0 2.5H4.6M2 0.3L0.5 7H4.6M2.5 4.2V12M0 9.6L4.6 8.6M5.2 3H11.6M5 6H12M8.6 0.3L6.6 8H11L8.6 11M8 10.6L10.2 12" fill="none" stroke="#333" stroke-width="1.04"/>
<path transform="translate(442.1 34.3) scale(0.96)" d="M2 1.2H10L6.5 4.6M6.5 4.6V11Q6.5 12.2 4.8 11.6M0.4 6.6H11.6" fill="none" stroke="#333" stroke-width="1.04"/>
<path transform="translate(455.4 34.3) scale(0.96)" d="M4 3H10.6V8.6Q10.6 9.8 9 9.2M7 0.3Q7 6 4 9.2M1.4 0.8L2.6 2.4M0.4 5H2.6V10L0.4 11.6M2.6 10Q5 12.2 12 11.6" fill="none" stroke="#333" stroke-width="1.04"/>
<path transform="translate(518.8 34.3) scale(0.96)" d="M6 0.3L6.6 1.6M1 4V2.4H11V4M3 5.2H9M6 5.2V11M6 7.8H9.2M3.2 7.5Q3.2 10.5 0.8 12M3.4 9.8Q5.5 11.8 12 11.6" fill="none" stroke="#333" stroke-width="1.04"/>
<path transform="translate(532.1 34.3) scale(0.96)" d="M2 1.2H10L6.5 4.6M6.5 4.6V11Q6.5 12.2 4.8 11.6M0.4 6.6H11.6" fill="none" stroke="#333" stroke-width="1.04"/>
<path transform="translate(545.4 34.3) scale(0.96)" d="M4 3H10.6V8.6Q10.6 9.8 9 9.2M7 0.3Q7 6 4 9.2M1.4 0.8L2.6 2.4M0.4 5H2.6V10L0.4 11.6M2.6 10Q5 12.2 12 11.6" fill="none" stroke="#333" stroke-width="1.04"/>
<path transform="translate(332.2 131.4) scale(1)" d="M0 2.5H4.6M2 0.3L0.5 7H4.6M2.5 4.2V12M0 9.6L4.6 8.6M5.2 3H11.6M5 6H12M8.6 0.3L6.6 8H11L8.6 11M8 10.6L10.2 12" fill="none" stroke="#333" stroke-width="1"/>
<path transform="translate(345.6 131.4) scale(1)" d="M2 1.2H10L6.5 4.6M6.5 4.6V11Q6.5 12.2 4.8 11.6M0.4 6.6H11.6" fill="none" stroke="#333" stroke-width="1"/>
<path transform="translate(359 131.4) scale(1)" d="M0 4H4.2M2.1 0.3V11.2Q2.1 12.2 1 11.6M0 8.6L4.2 6.8M8.2 0.3L8.7 1.4M4.8 2.4H11.6M6.2 3.4L7 5.3M10.4 3.4L9.4 5.3M4.6 5.8H12M7.4 6Q6.4 8.4 5.6 9.2L11 12M10.2 7Q9.2 10.6 5 12M4.6 8.6H12" fill="none" stroke="#333" stroke-width="1"/>
<path transform="translate(372.4 131.4) scale(1)" d="M3 0.3L1 3.8L3.6 3.8L0.6 7.8L4 7M0.4 11.2L4.2 9.6M5 3.6L11 2.6M5 6.2L11.6 5.2M7.2 0.3Q8 8 12 11.6M10 0.4L11 1.5M11.2 7L7.2 11.4" fill="none" stroke="#333" stroke-width="1"/>
<path transform="translate(385.8 131.4) scale(1)" d="M0 3.6H4.6M2.5 0.3V12M2.5 4L0 9.2M2.5 5.2L4.2 7.2M8 0.3L9 1.5M5 3H11.6M8.4 3V11M5.6 7H11.2M4.6 11.2H12" fill="none" stroke="#333" stroke-width="1"/>
<path transform="translate(754 58.8) scale(1)" d="M6 0.3L6.6 1.6M1 4V2.4H11V4M3 5.2H9M6 5.2V11M6 7.8H9.2M3.2 7.5Q3.2 10.5 0.8 12M3.4 9.8Q5.5 11.8 12 11.6" fill="none" stroke="#333" stroke-width="1"/>
<path transform="translate(767.4 58.8) scale(1)" d="M2 1.2H10L6.5 4.6M6.5 4.6V11Q6.5 12.2 4.8 11.6M0.4 6.6H11.6" fill="none" stroke="#333" stroke-width="1"/>
<path transform="translate(780.8 58.8) scale(1)" d="M0 4H4.2M2.1 0.3V11.2Q2.1 12.2 1 11.6M0 8.6L4.2 6.8M8.2 0.3L8.7 1.4M4.8 2.4H11.6M6.2 3.4L7 5.3M10.4 3.4L9.4 5.3M4.6 5.8H12M7.4 6Q6.4 8.4 5.6 9.2L11 12M10.2 7Q9.2 10.6 5 12M4.6 8.6H12" fill="none" stroke="#333" stroke-width="1"/>
<path transform="translate(794.2 58.8) scale(1)" d="M3 0.3L1 3.8L3.6 3.8L0.6 7.8L4 7M0.4 11.2L4.2 9.6M5 3.6L11 2.6M5 6.2L11.6 5.2M7.2 0.3Q8 8 12 11.6M10 0.4L11 1.5M11.2 7L7.2 11.4" fill="none" stroke="#333" stroke-width="1"/>
<path transform="translate(807.6 58.8) scale(1)" d="M0 3.6H4.6M2.5 0.3V12M2.5 4L0 9.2M2.5 5.2L4.2 7.2M8 0.3L9 1.5M5 3H11.6M8.4 3V11M5.6 7H11.2M4.6 11.2H12" fill="none" stroke="#333" stroke-width="1"/>
<path transform="translate(850.8 142.1) scale(0.96)" d="M6 0.3V11M6 5.6H10.6M2.6 4.4V11M0.4 11H11.6" fill="none" stroke="#333" stroke-width="1.04"/>
<path transform="translate(864.3 142.1) scale(0.96)" d="M0 2.5H4.6M2 0.3L0.5 7H4.6M2.5 4.2V12M0 9.6L4.6 8.6M5.2 3H11.6M5 6H12M8.6 0.3L6.6 8H11L8.6 11M8 10.6L10.2 12" fill="none" stroke="#333" stroke-width="1.04"/>
<path transform="translate(877.8 142.1) scale(0.96)" d="M3.6 0.3V6Q3.6 10 0.6 12M8.6 0.3V4.6M3.6 4.6H11M3.6 7.6H9.6V12" fill="none" stroke="#333" stroke-width="1.04"/>
</svg></body></html>
